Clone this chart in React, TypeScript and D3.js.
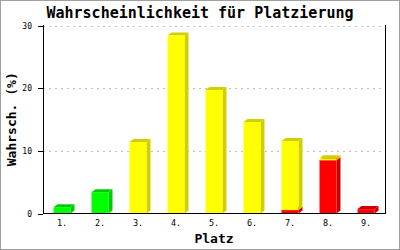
import React, { useEffect } from "react";
import * as d3 from "d3";

const categories = ["1.", "2.", "3.", "4.", "5.", "6.", "7.", "8.", "9."];
const redValues = [0, 0, 0, 0, 0, 0, 0.55, 8.5, 0.7];
const yellowValues = [0, 0, 11.4, 28.4, 19.7, 14.6, 11.0, 0.3, 0];
const greenValues = [1.0, 3.4, 0, 0, 0, 0, 0, 0, 0];
const yTicks = [0, 10, 20, 30];
const seriesKeys = ["red", "yellow", "green"];
const title = "Wahrscheinlichkeit für Platzierung";
const xTitle = "Platz";
const yTitle = "Wahrsch. (%)";

const W = 400;
const H = 250;
const left = 43;
const right = 385;
const top = 25;
const bottom = 213.5;
const DX = 4;
const DY = 3;

const front: Record<string, string> = { red: "#ff0000", yellow: "#ffff00", green: "#00ff00" };
const side: Record<string, string> = { red: "#cc0000", yellow: "#d0d000", green: "#00cc00" };

export default function App() {
  useEffect(() => {
    document.body.style.margin = "0";
  }, []);

  const rows = categories.map((c, i) => ({
    cat: c,
    red: redValues[i],
    yellow: yellowValues[i],
    green: greenValues[i],
  }));
  const stacked = d3.stack<any>().keys(seriesKeys)(rows);

  const x = d3
    .scaleBand<string>()
    .domain(categories)
    .range([left, right])
    .paddingInner(0.553)
    .paddingOuter(0.553 / 2);
  const y = d3.scaleLinear().domain([0, 30]).range([bottom, top + 0.5]);
  const bw = x.bandwidth();

  const mono = "'DejaVu Sans Mono', 'Liberation Mono', monospace";

  const segs: JSX.Element[] = [];
  categories.forEach((c, i) => {
    stacked.forEach((s) => {
      const [a, b] = s[i];
      if (b - a <= 0) return;
      const x0 = x(c)!;
      const x1 = x0 + bw;
      const yb = y(a);
      const yt = y(b);
      const key = s.key;
      segs.push(
        <g key={c + key}>
          <polygon
            points={`${x1},${yt} ${x1 + DX},${yt - DY} ${x1 + DX},${yb - DY} ${x1},${yb}`}
            fill={side[key]}
          />
          <polygon
            points={`${x0},${yt} ${x0 + DX},${yt - DY} ${x1 + DX},${yt - DY} ${x1},${yt}`}
            fill={side[key]}
          />
          <rect x={x0} y={yt} width={bw} height={yb - yt} fill={front[key]} />
        </g>
      );
    });
  });

  return (
    <svg
      width={W}
      height={H}
      style={{ position: "absolute", left: 0, top: 0, display: "block", background: "#fff" }}
    >
      <rect x={0.5} y={0.5} width={W - 1} height={H - 1} fill="#fff" stroke="#a0a0a0" />
      <text
        x={200}
        y={18}
        textAnchor="middle"
        fontFamily={mono}
        fontSize={15}
        fontWeight="bold"
        fill="#000"
      >
        {title}
      </text>
      {yTicks.map((t) =>
        t > 0 ? (
          <line
            key={"g" + t}
            x1={left}
            x2={right}
            y1={Math.round(y(t)) + 0.5}
            y2={Math.round(y(t)) + 0.5}
            stroke="#c0c0c0"
            strokeDasharray="2,4"
          />
        ) : null
      )}
      {segs}
      <line x1={left + 0.5} x2={left + 0.5} y1={top} y2={bottom} stroke="#000" />
      <line x1={right + 0.5} x2={right + 0.5} y1={top} y2={bottom} stroke="#000" />
      <line x1={left} x2={right + 1} y1={bottom} y2={bottom} stroke="#000" />
      {yTicks.map((t) => (
        <g key={"t" + t}>
          <line
            x1={left - 5}
            x2={left}
            y1={Math.round(y(t)) + 0.5}
            y2={Math.round(y(t)) + 0.5}
            stroke="#000"
          />
          <text
            x={left - 11}
            y={y(t) + 3}
            textAnchor="end"
            fontFamily={mono}
            fontSize={8}
            fill="#000"
          >
            {t}
          </text>
        </g>
      ))}
      {categories.map((c) => (
        <text
          key={"x" + c}
          x={x(c)! + bw / 2}
          y={226}
          textAnchor="middle"
          fontFamily={mono}
          fontSize={8.5}
          fill="#000"
        >
          {c}
        </text>
      ))}
      <text
        x={(left + right) / 2}
        y={243}
        textAnchor="middle"
        fontFamily={mono}
        fontSize={13}
        fontWeight="bold"
        fill="#000"
      >
        {xTitle}
      </text>
      <text
        transform={`translate(16, ${(top + bottom) / 2}) rotate(-90)`}
        textAnchor="middle"
        fontFamily={mono}
        fontSize={13}
        fontWeight="bold"
        fill="#000"
      >
        {yTitle}
      </text>
    </svg>
  );
}
